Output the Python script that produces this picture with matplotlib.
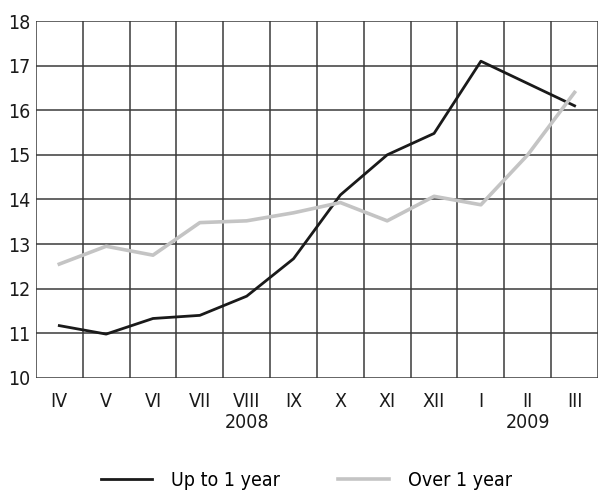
import matplotlib.pyplot as plt
from matplotlib.lines import Line2D

months = ['IV', 'V', 'VI', 'VII', 'VIII', 'IX', 'X', 'XI', 'XII', 'I', 'II', 'III']
up_to_1 = [11.17, 10.98, 11.33, 11.40, 11.83, 12.67, 14.10, 15.00, 15.48, 17.10, 16.60, 16.10]
over_1 = [12.55, 12.95, 12.75, 13.48, 13.52, 13.70, 13.93, 13.52, 14.07, 13.88, 15.00, 16.40]
years = {'2008': 4, '2009': 10}

plt.rcParams['font.family'] = ['DejaVu Sans']
plt.rcParams['font.stretch'] = 'condensed'

fig = plt.figure(figsize=(5.98, 4.9), dpi=100)
ax = fig.add_axes([0.060, 0.229, 0.94, 0.728])

x = list(range(len(months)))
ax.plot(x, up_to_1, color='#1a1a1a', lw=2, zorder=3)
ax.plot(x, over_1, color='#c4c4c4', lw=2.6, zorder=3)

ax.set_xlim(-0.5, 11.5)
ax.set_ylim(10, 18)
ax.set_yticks(range(10, 19))
ax.set_xticks(x)
ax.set_xticklabels(months)
# grid: category borders and whole numbers
for xv in [i + 0.5 for i in range(-1, 12)]:
    ax.axvline(xv, color='#3a3a3a', lw=1.1, zorder=1)
for yv in range(10, 19):
    ax.axhline(yv, color='#3a3a3a', lw=1.1, zorder=1)
for s in ax.spines.values():
    s.set_visible(False)
ax.tick_params(length=0, labelsize=14, colors='#1a1a1a')
ax.tick_params(axis='x', pad=10)
ax.tick_params(axis='y', pad=4)

for yr, pos in years.items():
    ax.text(pos, -0.1, yr, transform=ax.get_xaxis_transform(), ha='center', va='top',
            fontsize=14, color='#1a1a1a')

handles = [Line2D([], [], color='#1a1a1a', lw=2), Line2D([], [], color='#c4c4c4', lw=2.6)]
fig.legend(handles, ['Up to 1 year', 'Over 1 year'], loc='center',
           bbox_to_anchor=(0.513, 0.02), ncol=2, frameon=False, fontsize=14,
           handlelength=2.6, columnspacing=3.0, handletextpad=1.0)

fig.savefig('out.png', dpi=100)
